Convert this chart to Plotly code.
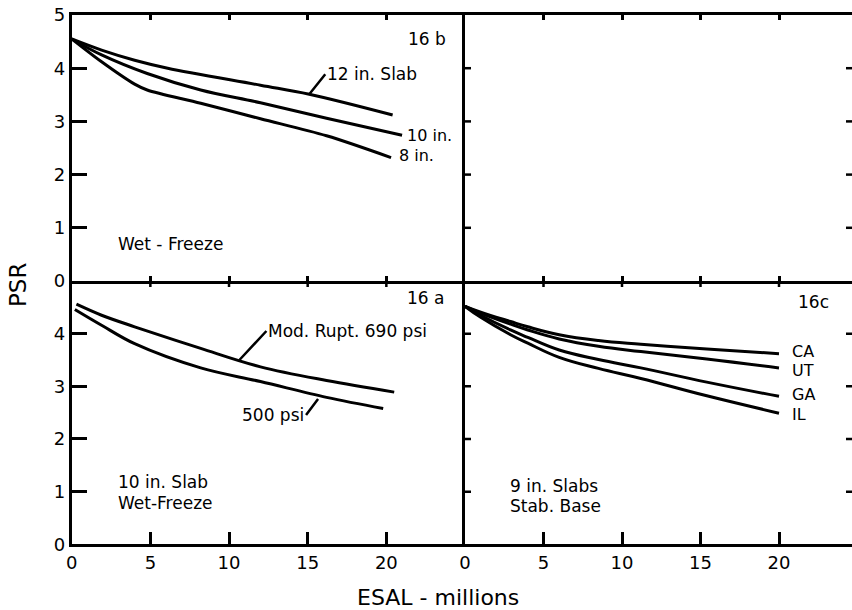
import plotly.graph_objects as go

# ---------------- data ----------------
# Panel 16b : Wet-Freeze, slab thickness
b_12_x = [0, 1.9, 4.0, 6.1, 12.0, 15.1, 20.4]
b_12_y = [4.55, 4.34, 4.15, 4.00, 3.68, 3.51, 3.12]
b_10_x = [0, 1.9, 4.8, 8.2, 12.0, 16.2, 21.0]
b_10_y = [4.55, 4.25, 3.90, 3.59, 3.35, 3.06, 2.74]
b_8_x = [0, 1.9, 4.0, 4.8, 8.2, 12.0, 16.2, 20.3]
b_8_y = [4.55, 4.12, 3.70, 3.59, 3.34, 3.05, 2.73, 2.32]

# Panel 16a : 10 in. slab, Wet-Freeze, modulus of rupture
a_690_x = [0.3, 1.9, 4.0, 8.2, 12.0, 16.2, 20.5]
a_690_y = [4.56, 4.35, 4.13, 3.72, 3.37, 3.11, 2.89]
a_500_x = [0.2, 1.9, 4.0, 8.2, 12.0, 16.2, 19.8]
a_500_y = [4.46, 4.16, 3.81, 3.35, 3.09, 2.79, 2.58]

# Panel 16c : 9 in. slabs, stabilized base, states
c_x = [0, 1.0, 2.9, 4.0, 6.0, 8.5, 11.2, 15.4, 20.0]
c_CA_y = [4.52, 4.41, 4.23, 4.13, 3.98, 3.87, 3.80, 3.71, 3.62]
c_UT_y = [4.52, 4.39, 4.18, 4.07, 3.90, 3.76, 3.66, 3.52, 3.35]
c_GA_y = [4.52, 4.35, 4.07, 3.93, 3.69, 3.51, 3.35, 3.08, 2.81]
c_IL_y = [4.52, 4.31, 3.98, 3.82, 3.55, 3.34, 3.15, 2.82, 2.49]

x_tick_vals = [0, 5, 10, 15, 20]
x_tick_text = ["0", "5", "10", "15", "20"]
y_tick_vals_top = [0, 1, 2, 3, 4, 5]
y_tick_vals_bot = [0, 1, 2, 3, 4]

# ---------------- layout geometry ----------------
W, H = 852, 610
def px(x):
    return x / W
def py(y):
    return (H - y) / H

XL0 = px(71.7)
XM = px(465.0)
YB0 = py(544.3)
YM = py(281.0)
YT1 = py(15.0)
XR_MAX = 24.65  # right panel is cut off at the page edge

FONT = "DejaVu Sans"
BLACK = "black"
LW = 3

fig = go.Figure()

def curve(x, y, xa, ya, smooth=1.0):
    fig.add_trace(go.Scatter(x=x, y=y, mode="lines", xaxis=xa, yaxis=ya,
                             line=dict(color=BLACK, width=3, shape="spline", smoothing=smooth),
                             hoverinfo="skip", showlegend=False))

# top-left (16b)
curve(b_12_x, b_12_y, "x3", "y3")
curve(b_10_x, b_10_y, "x3", "y3")
curve(b_8_x, b_8_y, "x3", "y3", smooth=0.9)
# bottom-left (16a)
curve(a_690_x, a_690_y, "x", "y")
curve(a_500_x, a_500_y, "x", "y")
# bottom-right (16c)
for ys in (c_CA_y, c_UT_y, c_GA_y, c_IL_y):
    curve(c_x, ys, "x2", "y2", smooth=1.2)
# top-right empty panel placeholder
fig.add_trace(go.Scatter(x=[None], y=[None], xaxis="x4", yaxis="y4", showlegend=False))

base = dict(showgrid=False, zeroline=False, showline=True, linewidth=LW, linecolor=BLACK,
            tickcolor=BLACK, tickwidth=2.5, automargin=False, ticklabeloverflow="allow",
            tickfont=dict(family=FONT, size=18, color=BLACK))

fig.update_layout(
    width=W, height=H, margin=dict(l=0, r=0, t=0, b=0),
    paper_bgcolor="white", plot_bgcolor="white", showlegend=False,
    xaxis=dict(base, domain=[XL0, XM], anchor="y", range=[0, 25],
               tickvals=x_tick_vals, ticktext=x_tick_text, ticks="inside", ticklen=12),
    yaxis=dict(base, domain=[YB0, YM], anchor="x", range=[0, 5],
               tickvals=y_tick_vals_bot, ticks="inside", ticklen=15),
    xaxis2=dict(base, domain=[XM, 1], anchor="y2", range=[0, XR_MAX],
                tickvals=x_tick_vals, ticktext=x_tick_text, ticks="inside", ticklen=12),
    yaxis2=dict(base, domain=[YB0, YM], anchor="x2", range=[0, 5],
                ticks="", showticklabels=False),
    xaxis3=dict(base, domain=[XL0, XM], anchor="y3", range=[0, 25],
                tickvals=x_tick_vals[1:], ticks="inside", ticklen=5, mirror="ticks",
                showticklabels=False),
    yaxis3=dict(base, domain=[YM, YT1], anchor="x3", range=[0, 5],
                tickvals=y_tick_vals_top, ticks="inside", ticklen=15),
    xaxis4=dict(base, domain=[XM, 1], anchor="y4", range=[0, XR_MAX],
                tickvals=x_tick_vals[1:], ticks="inside", ticklen=5, mirror="ticks",
                showticklabels=False),
    yaxis4=dict(base, domain=[YM, YT1], anchor="x4", range=[0, 5],
                ticks="", showticklabels=False),
)

# crossing ticks on the shared horizontal line and the shared vertical line
shapes = []
for xr, yr in (("x", "y"), ("x2", "y2")):
    for xv in x_tick_vals[1:]:
        shapes.append(dict(type="line", xref=xr, yref=yr, x0=xv, x1=xv,
                           ysizemode="pixel", yanchor=5, y0=-6, y1=6,
                           line=dict(color=BLACK, width=2.5)))
for xr, yr in (("x2", "y2"), ("x4", "y4")):
    for yv in [1, 2, 3, 4]:
        shapes.append(dict(type="line", xref=xr, yref=yr, y0=yv, y1=yv,
                           xsizemode="pixel", xanchor=0, x0=-6, x1=6,
                           line=dict(color=BLACK, width=2.5)))
        # inward ticks on the (cut-off) right border
        shapes.append(dict(type="line", xref=xr + " domain", yref=yr, y0=yv, y1=yv,
                           xsizemode="pixel", xanchor=1, x0=-6, x1=0,
                           line=dict(color=BLACK, width=2.5)))
fig.update_layout(shapes=shapes)

def label(text, x, y, xr, yr, xanchor="left", size=17):
    fig.add_annotation(text=text, x=x, y=y, xref=xr, yref=yr, xanchor=xanchor,
                       yanchor="middle", showarrow=False,
                       font=dict(family=FONT, size=size, color=BLACK))

def leader(text, x, y, xr, yr, ax, ay, xanchor, size=17):
    fig.add_annotation(text=text, x=x, y=y, xref=xr, yref=yr, ax=ax, ay=ay,
                       xanchor=xanchor, yanchor="middle", showarrow=True,
                       arrowhead=0, arrowwidth=2.5, arrowcolor=BLACK, standoff=0,
                       font=dict(family=FONT, size=size, color=BLACK))

# 16b
label("16 b", 23.9, 4.55, "x3", "y3", xanchor="right")
leader("12 in. Slab", 15.1, 3.51, "x3", "y3", 16, -20, "left")
label("10 in.", 21.2, 2.74, "x3", "y3", size=16)
label("8 in.", 20.7, 2.35, "x3", "y3", size=16)
label("Wet - Freeze", 2.8, 0.70, "x3", "y3")
# 16a
label("16 a", 23.8, 4.67, "x", "y", xanchor="right")
leader("Mod. Rupt. 690 psi", 10.66, 3.50, "x", "y", 27, -29, "left")
leader("500 psi", 15.66, 2.76, "x", "y", -12, 16, "right")
label("10 in. Slab", 2.8, 1.19, "x", "y")
label("Wet-Freeze", 2.8, 0.79, "x", "y")
# 16c
label("16c", 23.3, 4.61, "x2", "y2", xanchor="right")
label("CA", 20.7, 3.67, "x2", "y2", size=16)
label("UT", 20.7, 3.30, "x2", "y2", size=16)
label("GA", 20.7, 2.84, "x2", "y2", size=16)
label("IL", 20.7, 2.46, "x2", "y2", size=16)
label("9 in. Slabs", 2.75, 1.10, "x2", "y2")
label("Stab. Base", 2.75, 0.73, "x2", "y2")

# axis titles
fig.add_annotation(text="PSR", x=px(18), y=py(285), xref="paper", yref="paper",
                   textangle=-90, showarrow=False, xanchor="center", yanchor="middle",
                   font=dict(family=FONT, size=23, color=BLACK))
fig.add_annotation(text="ESAL - millions", x=px(438), y=py(597), xref="paper",
                   yref="paper", showarrow=False, xanchor="center", yanchor="middle",
                   font=dict(family=FONT, size=22, color=BLACK))

# remove the browser's default 8 px body margin so the 852x610 figure fills the window
fig.write_html("out.html", config={"displayModeBar": False},
               post_script="document.body.style.margin='0px';document.body.style.padding='0px';document.body.style.overflow='hidden';")
